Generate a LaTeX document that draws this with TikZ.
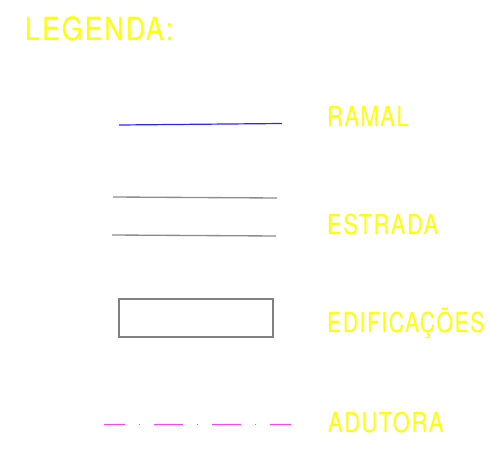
\documentclass[tikz,border=0pt]{standalone}
\usepackage{fontspec}
\newfontfamily\cadfont[LetterSpace=7]{TeX Gyre Heros}
\definecolor{cadyellow}{RGB}{255,255,0}
\definecolor{ramalblue}{RGB}{40,40,240}
\definecolor{roadgray}{RGB}{140,140,140}
\definecolor{bldgray}{RGB}{128,128,128}
\definecolor{adumag}{RGB}{255,64,255}
\tikzset{
  lbl/.style={anchor=base west, inner sep=0pt, text=cadyellow, font=\cadfont\fontsize{20.5}{24}\selectfont, xscale=0.8},
  edf/.style={lbl, xscale=0.97},
  ttl/.style={anchor=base west, inner sep=0pt, text=cadyellow, font=\cadfont\fontsize{24}{28}\selectfont, xscale=0.84},
  ramalline/.style={draw=ramalblue, line width=0.9pt},
  roadline/.style={draw=roadgray, line width=1pt},
  bldbox/.style={draw=bldgray, line width=1.5pt},
  aduline/.style={draw=adumag, line width=1pt, dash pattern=on 21.75pt off 10.5pt on 0.75pt off 10.5pt, dash phase=6pt}
}
\begin{document}
\begin{tikzpicture}[x=0.75pt,y=-0.75pt]
\useasboundingbox[fill=white] (0,0) rectangle (490,450);
\node[ttl] (title) at (25,40) {LEGENDA:};
% RAMAL
\coordinate (r1) at (119,125);
\coordinate (r2) at (282,123.5);
\draw[ramalline] (r1) -- (r2);
\node[lbl] (ramal) at (327,126) {RAMAL};
% ESTRADA
\coordinate (e1) at (113,197);
\coordinate (e2) at (277,198);
\coordinate (e3) at (112,235);
\coordinate (e4) at (276,236);
\draw[roadline] (e1) -- (e2);
\draw[roadline] (e3) -- (e4);
\node[lbl] (estrada) at (327,234) {ESTRADA};
% EDIFICACOES
\coordinate (b1) at (119,299);
\coordinate (b2) at (272.5,337);
\draw[bldbox] (b1) rectangle (b2);
\node[edf] (edif) at (327,332) {EDIFICAÇÕES};
% ADUTORA
\coordinate (a1) at (104,424.5);
\coordinate (a2) at (291,424.5);
\draw[aduline] (a1) -- (a2);
\node[lbl] (adutora) at (328,432) {ADUTORA};
\end{tikzpicture}
\end{document}
